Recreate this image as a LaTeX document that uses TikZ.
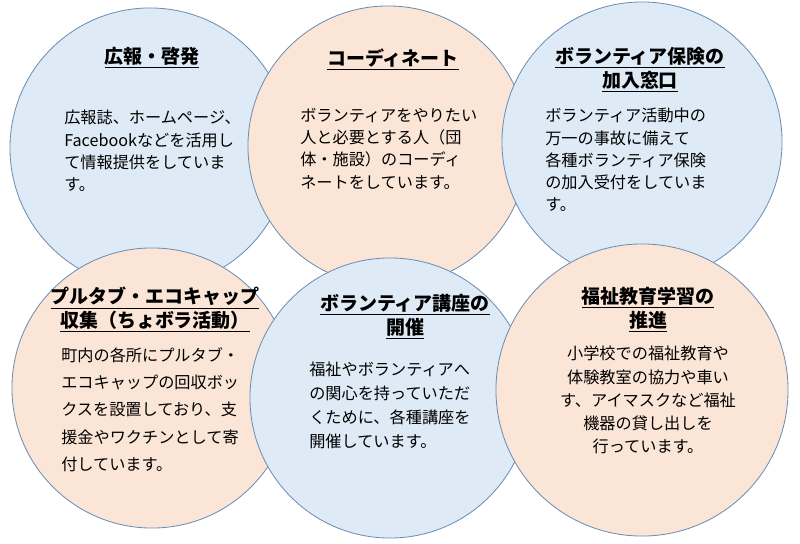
\documentclass[tikz,border=0pt]{standalone}
\usepackage{fontspec}
\setmainfont{Noto Sans CJK JP}
\definecolor{paleblue}{HTML}{DEEBF7}
\definecolor{palepeach}{HTML}{FBE5D6}
\definecolor{rimblue}{HTML}{6D8FB5}
\newcommand{\titleline}[1]{\underline{#1}}

\begin{document}
\begin{tikzpicture}[x=0.025cm, y=-0.025cm,
    % Circle styles
    bluecirc/.style={circle, draw=rimblue, line width=0.6pt, fill=paleblue, minimum size=7cm},
    peachcirc/.style={circle, draw=rimblue, line width=0.6pt, fill=palepeach, minimum size=7cm},
    % Text styles
    head/.style={font=\fontsize{13.5}{17}\selectfont\bfseries, align=center, anchor=north, inner sep=0pt},
    body/.style={font=\fontsize{11.5}{15.8}\selectfont, align=left, anchor=north west, inner sep=0pt},
    bodyc/.style={font=\fontsize{11.5}{16.4}\selectfont, align=center, anchor=north, inner sep=0pt}
]
\useasboundingbox (0,0) rectangle (800,544);

% Top row
\node[bluecirc] (kouhou) at (150,148) {};
\node[peachcirc] (coord) at (388,146) {};
\node[bluecirc] (hoken) at (642,142) {};

% Bottom row
\node[peachcirc] (pulltab) at (152,388) {};
\node[bluecirc] (kouza) at (390,398) {};
\node[peachcirc, minimum size=7.3cm] (fukushi) at (642,390) {};

% Titles
\node[head] (t1) at (152,47) {\titleline{広報・啓発}};
\node[head] (t2) at (393,49) {\titleline{コーディネート}};
\node[head] (t3) at (640,47) {\titleline{ボランティア保険の}\\\titleline{加入窓口}};
\node[head] (t4) at (155,287) {\titleline{プルタブ・エコキャップ}\\\titleline{収集（ちょボラ活動）}};
\node[head] (t5) at (405,294) {\titleline{ボランティア講座の}\\\titleline{開催}};
\node[head] (t6) at (648,287) {\titleline{福祉教育学習の}\\\titleline{推進}};

% Body texts
\node[body] (b1) at (64,110) {広報誌、ホームページ、\\Facebookなどを活用し\\て情報提供をしていま\\す。};
\node[body] (b2) at (300,108) {ボランティアをやりたい\\人と必要とする人（団\\体・施設）のコーディ\\ネートをしています。};
\node[body] (b3) at (545,108) {ボランティア活動中の\\万一の事故に備えて\\各種ボランティア保険\\の加入受付をしていま\\す。};
\node[body, font=\fontsize{11.5}{19.5}\selectfont] (b4) at (61,347) {町内の各所にプルタブ・\\エコキャップの回収ボッ\\クスを設置しており、支\\援金やワクチンとして寄\\付しています。};
\node[body, font=\fontsize{11.5}{17}\selectfont] (b5) at (309,362) {福祉やボランティアへ\\の関心を持っていただ\\くために、各種講座を\\開催しています。};
\node[bodyc] (b6) at (648,346) {小学校での福祉教育や\\体験教室の協力や車い\\す、アイマスクなど福祉\\機器の貸し出しを\\行っています。};
\end{tikzpicture}
\end{document}
